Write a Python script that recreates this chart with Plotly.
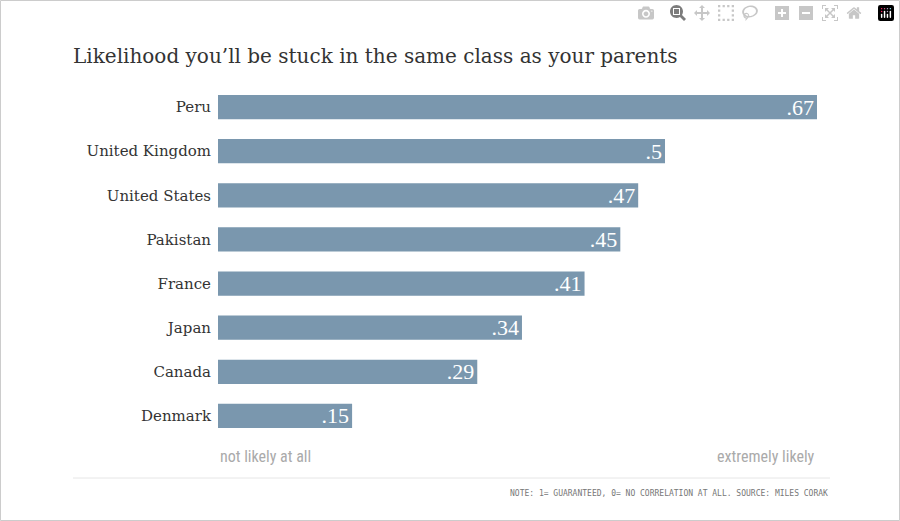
import plotly.graph_objects as go

countries = ["Peru", "United Kingdom", "United States", "Pakistan", "France", "Japan", "Canada", "Denmark"]
values = [0.67, 0.5, 0.47, 0.45, 0.41, 0.34, 0.29, 0.15]
labels = [".67", ".5", ".47", ".45", ".41", ".34", ".29", ".15"]

bar_colour = "#7a97ae"

fig = go.Figure(go.Bar(
    x=values, y=countries, orientation="h",
    marker=dict(color=bar_colour, line_width=0),
    text=labels, textposition="inside", insidetextanchor="end",
    textangle=0, constraintext="none",
    textfont=dict(family="Liberation Serif", size=22, color="white"),
    cliponaxis=False,
))

fig.update_layout(
    width=900, height=521, autosize=False,
    paper_bgcolor="white", plot_bgcolor="white",
    margin=dict(l=218, r=83, t=85, b=83),
    bargap=0.45, showlegend=False,
    title=dict(text="Likelihood you\u2019ll be stuck in the same class as your parents",
               x=73 / 900, xanchor="left", y=1 - 56 / 521, yanchor="middle",
               font=dict(family="DejaVu Serif", size=20, color="#333333")),
)
fig.update_xaxes(range=[0, 0.67], visible=False)
fig.update_yaxes(categoryorder="array", categoryarray=countries[::-1],
                 showgrid=False, ticks="", ticklabelstandoff=6,
                 tickfont=dict(family="DejaVu Serif", size=15, color="#333333"))

fig.add_annotation(text="not likely at all", xref="paper", yref="paper",
                   x=0, xanchor="left", y=1 - (456 - 85) / 353, yanchor="middle",
                   showarrow=False, font=dict(family="Liberation Sans Narrow, Roboto Condensed, Liberation Sans",
                                              size=16, color="#aaaaaa"))
fig.add_annotation(text="extremely likely", xref="paper", yref="paper",
                   x=1, xanchor="right", y=1 - (456 - 85) / 353, yanchor="middle",
                   showarrow=False, font=dict(family="Liberation Sans Narrow, Roboto Condensed, Liberation Sans",
                                              size=16, color="#aaaaaa"))
fig.add_annotation(text="NOTE: 1= GUARANTEED, 0= NO CORRELATION AT ALL. SOURCE: MILES CORAK",
                   xref="paper", yref="paper", x=(830 - 218) / 599, xanchor="right",
                   y=1 - (493 - 85) / 353, yanchor="middle", showarrow=False,
                   font=dict(family="DejaVu Sans Mono", size=8, color="#777777"))

fig.add_shape(type="line", xref="paper", yref="paper",
              x0=(73 - 218) / 599, x1=(830 - 218) / 599,
              y0=1 - (478 - 85) / 353, y1=1 - (478 - 85) / 353,
              line=dict(color="#e6e6e6", width=1))
fig.add_shape(type="rect", xref="paper", yref="paper",
              x0=-217.5 / 599, x1=(899.5 - 218) / 599,
              y0=1 - (520.5 - 85) / 353, y1=1 + 84.5 / 353,
              line=dict(color="#cccccc", width=1))

fig.write_html("out.html")

# drop the browser's default body margin so the figure sits at 0,0
with open("out.html", encoding="utf-8") as f:
    page = f.read()
page = page.replace("<head>", "<head><style>body{margin:0;overflow:hidden}</style>", 1)
with open("out.html", "w", encoding="utf-8") as f:
    f.write(page)
